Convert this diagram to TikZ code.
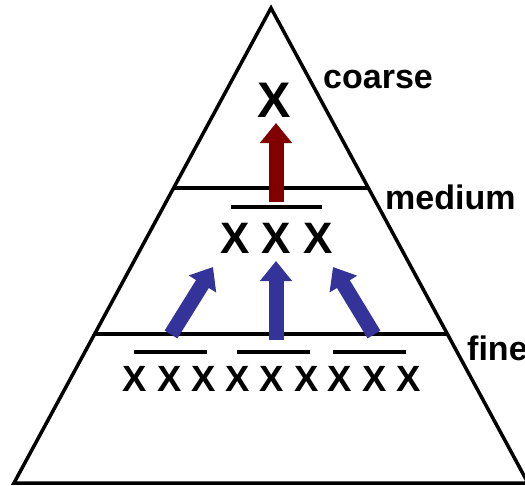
\documentclass[tikz,border=0pt]{standalone}
\usepackage{fontspec}
\setmainfont{Liberation Sans}
\usepackage{xcolor}
\definecolor{navy}{HTML}{333399}
\definecolor{maroon}{HTML}{800000}
\usetikzlibrary{arrows.meta,calc}

\begin{document}
\begin{tikzpicture}[x=1pt, y=-1pt,
  edge/.style={line width=3.5pt},
  bar/.style={line width=4pt},
  fat/.style={line width=15pt, -{Triangle[length=20pt, width=31pt]}},
  lvl/.style={font=\fontsize{34}{34}\selectfont\bfseries, anchor=base west, inner sep=0pt},
  grid/.style={inner sep=0pt}]
  \useasboundingbox (0,0) rectangle (525,485);

  % Pyramid
  \coordinate (apex) at (271,8);
  \coordinate (bl) at (14,483);
  \coordinate (br) at (528,483);
  \draw[edge] (bl) -- (apex) -- (br) -- cycle;
  \draw[edge] ($(apex)!0.379!(bl)$) -- ($(apex)!0.379!(br)$);
  \draw[edge] ($(apex)!0.686!(bl)$) -- ($(apex)!0.686!(br)$);

  % Level names
  \node[lvl] (coarse) at (323,88) {coarse};
  \node[lvl] (medium) at (385,209) {medium};
  \node[lvl] (fine) at (467,360) {fine};

  % Grid points
  \node[grid, font=\fontsize{50}{50}\selectfont\bfseries] (top) at (274,100) {X};
  \node[grid, font=\fontsize{44}{44}\selectfont\bfseries] (mid) at (276.5,238.5) {X X X};
  \node[grid, font=\fontsize{36.5}{36.5}\selectfont\bfseries] (g1) at (169.5,378.5) {X X X};
  \node[grid, font=\fontsize{36.5}{36.5}\selectfont\bfseries] (g2) at (272,378.5) {X X X};
  \node[grid, font=\fontsize{36.5}{36.5}\selectfont\bfseries] (g3) at (374.5,378.5) {X X X};

  % Averaging bars
  \draw[bar] (231,207) -- (322,207);
  \draw[bar] (134,352) -- (207,352);
  \draw[bar] (237,352) -- (310,352);
  \draw[bar] (333,352) -- (406,352);

  % Restriction arrows
  \coordinate (m0) at (276,202);
  \coordinate (m1) at (276,123);
  \draw[fat, maroon] (m0) -- (m1);

  \coordinate (a0) at (171,334.5);
  \coordinate (a1) at (213,267);
  \coordinate (b0) at (276,340);
  \coordinate (b1) at (276,261);
  \coordinate (c0) at (374,334.5);
  \coordinate (c1) at (333,267);
  \draw[fat, navy] (a0) -- (a1);
  \draw[fat, navy] (b0) -- (b1);
  \draw[fat, navy] (c0) -- (c1);

\end{tikzpicture}
\end{document}
